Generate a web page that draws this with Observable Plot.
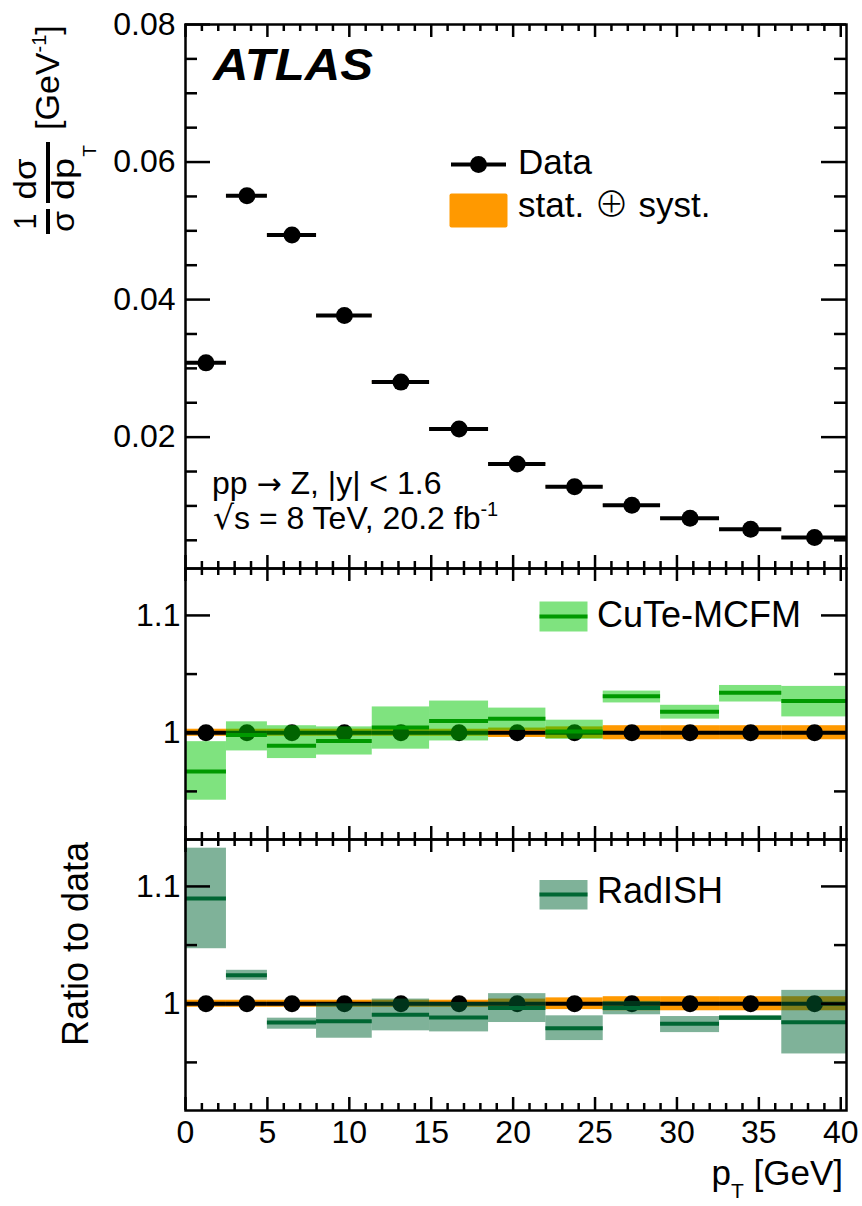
<!DOCTYPE html>
<html><head><meta charset="utf-8">
<script src="https://cdn.jsdelivr.net/npm/d3@7"></script>
<script src="https://cdn.jsdelivr.net/npm/@observablehq/plot@0.6"></script>
<style>
html,body{margin:0;padding:0;background:#fff;}
#wrap{position:relative;width:862px;height:1206px;overflow:hidden;}
#wrap svg{position:absolute;left:0;}
</style></head><body><div id="wrap"></div>
<script>
// ---------------- data ----------------
const binLow  = [0, 2.5, 5, 8, 11.4, 14.9, 18.5, 22, 25.5, 29, 32.6, 36.4];
const binHigh = [2.5, 5, 8, 11.4, 14.9, 18.5, 22, 25.5, 29, 32.6, 36.4, 40.35];
const ptCenter = [1.25, 3.75, 6.5, 9.7, 13.15, 16.7, 20.25, 23.75, 27.25, 30.8, 34.5, 38.4];
const dataXsec = [0.0308, 0.0551, 0.0494, 0.0377, 0.0280, 0.0212, 0.0161, 0.0128, 0.0101, 0.0082, 0.0066, 0.0054];
const dataRelUnc = [0.003, 0.003, 0.003, 0.003, 0.003, 0.003, 0.004, 0.005, 0.006, 0.006, 0.006, 0.006];
const cuteCentral = [0.967, 0.998, 0.989, 0.993, 1.0045, 1.010, 1.012, 1.001, 1.031, 1.018, 1.034, 1.027];
const cuteLow     = [0.9425, 0.9845, 0.978, 0.981, 0.986, 0.993, 1.002, 0.9944, 1.0254, 1.0116, 1.0262, 1.0135];
const cuteHigh    = [0.9924, 1.0093, 1.006, 1.005, 1.022, 1.027, 1.021, 1.0107, 1.0355, 1.0234, 1.0403, 1.0395];
const radishCentral = [1.0897, 1.0243, 0.984, 0.9851, 0.9906, 0.9883, 0.9963, 0.9792, 0.9963, 0.9829, 0.988, 0.9843];
const radishLow     = [1.0469, 1.020, 0.9783, 0.9706, 0.9769, 0.976, 0.984, 0.9686, 0.9906, 0.9754, 0.9857, 0.9572];
const radishHigh    = [1.1326, 1.0285, 0.9877, 1.0, 1.004, 1.0011, 1.0086, 0.9897, 1.002, 0.9891, 0.99, 1.0114];
const xMajorTicks = [0, 5, 10, 15, 20, 25, 30, 35, 40];
const topYTicks = [0.02, 0.04, 0.06, 0.08];
const ratioYTicks = [1, 1.1];
const ratioYMinor = [0.95, 1.05];

// ---------------- style ----------------
const FONT = '"Liberation Sans", Arial, Helvetica, sans-serif';
const ORANGE = "#ff9900";
const CUTE_FILL = "#00c800", CUTE_LINE = "#009900";
const RAD_FILL = "#006633", RAD_LINE = "#006633";
const W = 862, ML = 185, MR = 16;
const X_DOMAIN = [0, 40.35];
const xMinorTicks = d3.range(1, 41).filter(d => d % 5 !== 0);
const topYMinor = d3.range(1, 17).map(i => +(i * 0.005).toFixed(3)).filter(d => !topYTicks.includes(d));

const rows = ptCenter.map((c, i) => ({
  c, lo: binLow[i], hi: binHigh[i], v: dataXsec[i], e: dataRelUnc[i],
  cc: cuteCentral[i], cl: cuteLow[i], ch: cuteHigh[i],
  rc: radishCentral[i], rl: radishLow[i], rh: radishHigh[i]
}));

const wrap = d3.select("#wrap");

function frameTicks(ph, pw, yMajor, yMinor) {
  const s = {stroke: "black", strokeWidth: 2.5};
  return [
    Plot.tickX(xMajorTicks, {...s, insetBottom: ph - 13}),
    Plot.tickX(xMajorTicks, {...s, insetTop: ph - 13}),
    Plot.tickX(xMinorTicks, {...s, insetBottom: ph - 7}),
    Plot.tickX(xMinorTicks, {...s, insetTop: ph - 7}),
    Plot.tickY(yMajor, {...s, insetRight: pw - 25}),
    Plot.tickY(yMajor, {...s, insetLeft: pw - 25}),
    Plot.tickY(yMinor, {...s, insetRight: pw - 12}),
    Plot.tickY(yMinor, {...s, insetLeft: pw - 12}),
    Plot.frame({stroke: "black", strokeWidth: 2.5})
  ];
}

function panel({top, height, mt, mb, yDomain, yMajor, yMinor, yFmt, yPad, showX, marks}) {
  const ph = height - mt - mb, pw = W - ML - MR;
  const svg = Plot.plot({
    width: W, height, marginLeft: ML, marginRight: MR, marginTop: mt, marginBottom: mb,
    style: {background: "transparent", overflow: "visible", fontFamily: FONT, fontSize: "32px", color: "black"},
    x: {domain: X_DOMAIN, ticks: xMajorTicks, tickSize: 0, tickPadding: 10, label: null, axis: showX ? "bottom" : null},
    y: {domain: yDomain, ticks: yMajor, tickSize: 0, tickPadding: yPad, tickFormat: yFmt, label: null},
    marks: [...marks, ...frameTicks(ph, pw, yMajor, yMinor)]
  });
  d3.select(svg).style("top", top + "px");
  wrap.node().appendChild(svg);
}

// top panel
panel({
  top: 0, height: 580, mt: 24, mb: 12, yDomain: [0.0009, 0.08],
  yMajor: topYTicks, yMinor: topYMinor, yFmt: d3.format(".2f"), yPad: 10, showX: false,
  marks: [
    Plot.rect(rows, {x1: "lo", x2: "hi", y1: d => d.v * (1 - d.e), y2: d => d.v * (1 + d.e), fill: ORANGE}),
    Plot.ruleY(rows, {x1: "lo", x2: "hi", y: "v", stroke: "black", strokeWidth: 4}),
    Plot.dot(rows, {x: "c", y: "v", r: 8.5, fill: "black", stroke: "none"})
  ]
});

function ratioMarks(cen, low, high, fill, line) {
  return [
    Plot.rect(rows, {x1: "lo", x2: "hi", y1: d => 1 - d.e, y2: d => 1 + d.e, fill: ORANGE}),
    Plot.ruleY(rows, {x1: "lo", x2: "hi", y: d => d.v / d.v, stroke: "black", strokeWidth: 4}),
    Plot.dot(rows, {x: "c", y: d => d.v / d.v, r: 8.5, fill: "black", stroke: "none"}),
    Plot.rect(rows, {x1: "lo", x2: "hi", y1: low, y2: high, fill, fillOpacity: 0.5}),
    Plot.ruleY(rows, {x1: "lo", x2: "hi", y: cen, stroke: line, strokeWidth: 4})
  ];
}

// middle panel (CuTe-MCFM)
panel({
  top: 560, height: 290, mt: 8, mb: 11, yDomain: [0.909, 1.14],
  yMajor: ratioYTicks, yMinor: ratioYMinor, yFmt: d => String(d), yPad: 5, showX: false,
  marks: ratioMarks("cc", "cl", "ch", CUTE_FILL, CUTE_LINE)
});

// bottom panel (RadISH)
panel({
  top: 830, height: 376, mt: 9, mb: 96, yDomain: [0.909, 1.14],
  yMajor: ratioYTicks, yMinor: ratioYMinor, yFmt: d => String(d), yPad: 5, showX: true,
  marks: ratioMarks("rc", "rl", "rh", RAD_FILL, RAD_LINE)
});

// ---------------- overlay: labels & legends ----------------
const ov = wrap.append("svg").attr("width", W).attr("height", 1206)
  .style("top", "0px").style("pointer-events", "none")
  .attr("font-family", FONT).attr("fill", "black");

// ATLAS
ov.append("text").attr("x", 213).attr("y", 80).attr("font-size", 44)
  .attr("font-weight", "bold").attr("font-style", "italic")
  .attr("textLength", 160).attr("lengthAdjust", "spacingAndGlyphs").text("ATLAS");

// Legend: Data
ov.append("line").attr("x1", 451).attr("x2", 506).attr("y1", 164.5).attr("y2", 164.5)
  .attr("stroke", "black").attr("stroke-width", 4);
ov.append("circle").attr("cx", 478.5).attr("cy", 164.5).attr("r", 8.5).attr("fill", "black");
ov.append("text").attr("x", 518).attr("y", 173.5).attr("font-size", 35).text("Data");
ov.append("rect").attr("x", 449.5).attr("y", 193.5).attr("width", 58).attr("height", 34)
  .attr("rx", 2).attr("fill", ORANGE);
const st = ov.append("text").attr("x", 518).attr("y", 217).attr("font-size", 35);
st.append("tspan").text("stat. ");
st.append("tspan").attr("font-family", '"Noto Sans CJK SC", "DejaVu Sans", sans-serif').attr("font-weight", 300).text("\u2295");
st.append("tspan").text(" syst.");

// process text
const t1 = ov.append("text").attr("x", 212).attr("y", 494).attr("font-size", 32);
t1.append("tspan").text("pp ");
t1.append("tspan").attr("font-family", '"DejaVu Sans", sans-serif').attr("font-size", 30).text("\u2192");
t1.append("tspan").text(" Z, |y| < 1.6");
const t2 = ov.append("text").attr("x", 213).attr("y", 529).attr("font-size", 32);
t2.append("tspan").attr("font-family", '"DejaVu Sans", sans-serif').attr("font-size", 33).text("\u221A");
t2.append("tspan").text("s = 8 TeV, 20.2 fb");
t2.append("tspan").attr("font-size", 20).attr("dy", -13).text("-1");

// CuTe legend
ov.append("rect").attr("x", 539.5).attr("y", 601.5).attr("width", 48).attr("height", 30)
  .attr("fill", CUTE_FILL).attr("fill-opacity", 0.5);
ov.append("line").attr("x1", 539.5).attr("x2", 587.5).attr("y1", 616.5).attr("y2", 616.5)
  .attr("stroke", CUTE_LINE).attr("stroke-width", 4);
ov.append("text").attr("x", 597).attr("y", 627).attr("font-size", 36).text("CuTe-MCFM");

// RadISH legend
ov.append("rect").attr("x", 539.5).attr("y", 880).attr("width", 48).attr("height", 29.5)
  .attr("fill", RAD_FILL).attr("fill-opacity", 0.5);
ov.append("line").attr("x1", 539.5).attr("x2", 587.5).attr("y1", 894.5).attr("y2", 894.5)
  .attr("stroke", RAD_LINE).attr("stroke-width", 4);
ov.append("text").attr("x", 597).attr("y", 903).attr("font-size", 36).text("RadISH");

// y label (top panel): 1/σ dσ/dpT [GeV^-1]
const gy = ov.append("g").attr("transform", "rotate(-90)");
const frac = (txt, u, v, len) => gy.append("text").attr("x", u).attr("y", v).attr("font-size", 31)
  .attr("text-anchor", "middle").attr("textLength", len).attr("lengthAdjust", "spacingAndGlyphs").text(txt);
frac("1", -221.5, 36, 16);
gy.append("line").attr("x1", -234).attr("x2", -209).attr("y1", 48).attr("y2", 48).attr("stroke", "black").attr("stroke-width", 4);
frac("\u03C3", -221.5, 74, 21);
frac("d\u03C3", -179, 36, 41);
gy.append("line").attr("x1", -203).attr("x2", -142).attr("y1", 48).attr("y2", 48).attr("stroke", "black").attr("stroke-width", 4);
frac("dp", -179, 74, 42);
gy.append("text").attr("x", -151).attr("y", 96).attr("font-size", 19).attr("text-anchor", "middle").text("T");
const gl = gy.append("text").attr("x", -130).attr("y", 59).attr("font-size", 34);
gl.append("tspan").text("[GeV");
gl.append("tspan").attr("font-size", 20).attr("dy", -13).text("-1");
gl.append("tspan").attr("dy", 13).text("]");

// y label (ratio panels)
ov.append("text").attr("transform", "rotate(-90)").attr("x", -944).attr("y", 88)
  .attr("font-size", 36).attr("text-anchor", "middle").text("Ratio to data");

// x label
const xl = ov.append("text").attr("x", 843).attr("y", 1185).attr("font-size", 35).attr("text-anchor", "end");
xl.append("tspan").text("p");
xl.append("tspan").attr("font-size", 21).attr("dy", 13).text("T");
xl.append("tspan").attr("dy", -13).text(" [GeV]");
</script></body></html>
